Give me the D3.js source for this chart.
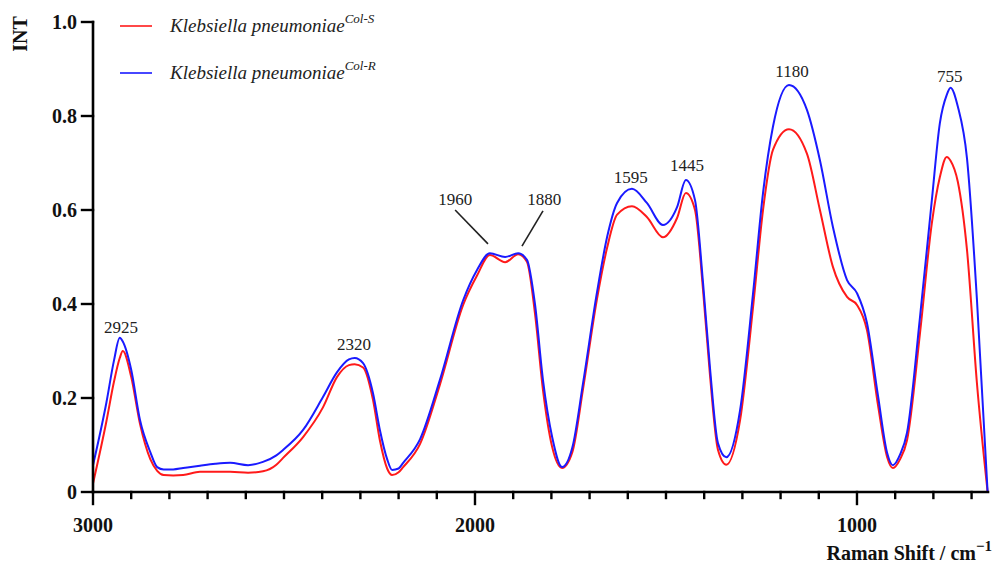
<!DOCTYPE html>
<html lang="en">
<head>
    <meta charset="UTF-8">
    <title>Raman spectra</title>
    <script src="https://d3js.org/d3.v7.min.js"></script>
    <style>
        *{
            margin: 0;
            padding: 0;
        }
        body{ background: #fff; }
        svg text{ font-family: "Liberation Serif", "DejaVu Serif", serif; }
        .tick-label{ font-size: 20px; font-weight: bold; fill: #111; }
        .peak{ font-size: 17px; fill: #222; }
        .legend{ font-size: 19px; font-style: italic; fill: #222; }
    </style>
</head>
<body>
    <div id="content"></div>

    <script>
        // Raman shift (cm-1)
        var shifts = [3000, 2965, 2945, 2930, 2922, 2900, 2877, 2850, 2832, 2815, 2790, 2764, 2720, 2680, 2641,
            2594, 2555, 2520, 2503, 2450, 2398, 2361, 2330, 2315, 2293, 2267, 2249, 2230, 2217, 2200, 2188,
            2144, 2092, 2031, 1995, 1961, 1921, 1887, 1864, 1843, 1822, 1798, 1772, 1745, 1717, 1681, 1654,
            1628, 1589, 1550, 1508, 1471, 1448, 1424, 1403, 1385, 1364, 1342, 1306, 1272, 1246, 1220, 1178,
            1131, 1097, 1063, 1026, 1000, 974, 945, 921, 906, 887, 869, 835, 804, 783, 765, 755, 736, 712,
            686, 658];
        // Klebsiella pneumoniae Col-S (red)
        var colS = [0.018, 0.15, 0.235, 0.285, 0.30, 0.245, 0.145, 0.07, 0.045, 0.036, 0.035, 0.036, 0.043, 0.043, 0.043,
            0.041, 0.044, 0.058, 0.072, 0.117, 0.18, 0.245, 0.27, 0.272, 0.265, 0.196, 0.11, 0.05, 0.036, 0.042, 0.053,
            0.102, 0.228, 0.398, 0.46, 0.504, 0.489, 0.506, 0.49, 0.38, 0.217, 0.096, 0.051, 0.085, 0.22, 0.409, 0.52,
            0.59, 0.608, 0.585, 0.542, 0.583, 0.636, 0.60, 0.43, 0.25, 0.09, 0.058, 0.153, 0.394, 0.60, 0.728, 0.772,
            0.72, 0.60, 0.479, 0.415, 0.398, 0.345, 0.185, 0.074, 0.051, 0.07, 0.11, 0.338, 0.572, 0.67, 0.713, 0.705, 0.66, 0.515,
            0.232, 0.0];
        // Klebsiella pneumoniae Col-R (blue)
        var colR = [0.057, 0.19, 0.28, 0.328, 0.32, 0.26, 0.153, 0.085, 0.053, 0.048, 0.048, 0.051, 0.056, 0.060, 0.062,
            0.057, 0.064, 0.078, 0.089, 0.132, 0.202, 0.255, 0.282, 0.285, 0.274, 0.21, 0.132, 0.07, 0.047, 0.05, 0.062,
            0.112, 0.238, 0.408, 0.472, 0.508, 0.50, 0.508, 0.494, 0.40, 0.238, 0.117, 0.053, 0.095, 0.232, 0.423, 0.543,
            0.615, 0.645, 0.615, 0.568, 0.606, 0.664, 0.621, 0.445, 0.266, 0.104, 0.074, 0.174, 0.423, 0.636, 0.777, 0.866,
            0.813, 0.706, 0.564, 0.451, 0.423, 0.36, 0.205, 0.083, 0.057, 0.08, 0.126, 0.372, 0.621, 0.785, 0.845, 0.86, 0.82, 0.71,
            0.41, 0.0];

        var yTicks = [0, 0.2, 0.4, 0.6, 0.8, 1.0];
        var yTickLabels = ["0", "0.2", "0.4", "0.6", "0.8", "1.0"];
        var xMajor = [3000, 2000, 1000];
        var xMinor = d3.range(2900, 657, -100).filter(function(v){ return v % 1000 !== 0; });

        // peak labels: position in data units (x, baseline intensity)
        var peakText = ["2925", "2320", "1960", "1880", "1595", "1445", "1180", "755"];
        var peakX = [2927, 2317, 2052, 1819, 1592, 1445, 1170, 757];
        var peakY = [0.338, 0.302, 0.611, 0.611, 0.657, 0.683, 0.883, 0.872];
        // leader lines for 1960 / 1880
        var leaders = [[2052, 0.600, 1966, 0.528], [1822, 0.598, 1877, 0.523]];

        var legendNames = ["Col-S", "Col-R"];
        var colors = ["#ff1a1a", "#1a1aff"];

        var width = 995, height = 566;
        var padding = {top: 22, right: 7, bottom: 74, left: 93};

        var svg = d3.select("#content").append("svg")
                .attr("width", width).attr("height", height);

        var xScale = d3.scaleLinear().domain([3000, 657]).range([padding.left, width - padding.right]);
        var yScale = d3.scaleLinear().domain([0, 1]).range([height - padding.bottom, padding.top]);

        var line = d3.line()
                .x(function(d){ return xScale(d[0]); })
                .y(function(d){ return yScale(d[1]); })
                .curve(d3.curveMonotoneX);

        [colS, colR].forEach(function(series, k){
            var pts = shifts.map(function(s, i){ return [s, series[i]]; });
            svg.append("path")
                .attr("d", line(pts))
                .attr("fill", "none")
                .attr("stroke", colors[k])
                .attr("stroke-width", 2);
        });

        /* 坐标轴 */
        var y0 = yScale(0);
        var axisG = svg.append("g").attr("stroke", "#000").attr("stroke-linecap", "square");
        axisG.append("line")
            .attr("x1", xScale(3000)).attr("x2", xScale(657))
            .attr("y1", y0).attr("y2", y0).attr("stroke-width", 2.6);
        axisG.append("line")
            .attr("x1", xScale(3000)).attr("x2", xScale(3000))
            .attr("y1", yScale(1)).attr("y2", y0).attr("stroke-width", 2.6);

        axisG.selectAll(".ymaj").data(yTicks).enter().append("line")
            .attr("x1", xScale(3000) - 11).attr("x2", xScale(3000))
            .attr("y1", function(d){ return yScale(d); })
            .attr("y2", function(d){ return yScale(d); })
            .attr("stroke-width", 2.4);

        axisG.selectAll(".xmaj").data(xMajor).enter().append("line")
            .attr("x1", function(d){ return xScale(d); })
            .attr("x2", function(d){ return xScale(d); })
            .attr("y1", y0).attr("y2", y0 + 12)
            .attr("stroke-width", 2.4);

        axisG.selectAll(".xmin").data(xMinor).enter().append("line")
            .attr("x1", function(d){ return xScale(d); })
            .attr("x2", function(d){ return xScale(d); })
            .attr("y1", y0).attr("y2", y0 + 6)
            .attr("stroke-width", 2.4);

        svg.selectAll(".ylab").data(yTicks).enter().append("text")
            .attr("class", "tick-label")
            .attr("x", xScale(3000) - 16)
            .attr("y", function(d){ return yScale(d); })
            .attr("dy", "0.35em")
            .attr("text-anchor", "end")
            .text(function(d, i){ return yTickLabels[i]; });

        svg.selectAll(".xlab").data(xMajor).enter().append("text")
            .attr("class", "tick-label")
            .attr("x", function(d){ return xScale(d); })
            .attr("y", y0 + 40)
            .attr("text-anchor", "middle")
            .text(function(d){ return d; });

        var xt = svg.append("text")
            .attr("class", "tick-label")
            .attr("font-size", 21)
            .attr("x", width - 3)
            .attr("y", height - 6)
            .attr("text-anchor", "end");
        xt.append("tspan").text("Raman Shift / cm");
        xt.append("tspan").attr("dy", -9).attr("font-size", 15).text("\u22121");

        svg.append("text")
            .attr("class", "tick-label")
            .attr("font-size", 18)
            .attr("transform", "translate(27," + (padding.top + 12) + ") rotate(-90)")
            .attr("text-anchor", "middle")
            .text("INT");

        /* 峰标注 */
        svg.selectAll(".peak").data(peakText).enter().append("text")
            .attr("class", "peak")
            .attr("x", function(d, i){ return xScale(peakX[i]); })
            .attr("y", function(d, i){ return yScale(peakY[i]); })
            .attr("text-anchor", "middle")
            .text(function(d){ return d; });

        svg.selectAll(".leader").data(leaders).enter().append("line")
            .attr("x1", function(d){ return xScale(d[0]); })
            .attr("y1", function(d){ return yScale(d[1]); })
            .attr("x2", function(d){ return xScale(d[2]); })
            .attr("y2", function(d){ return yScale(d[3]); })
            .attr("stroke", "#222").attr("stroke-width", 1.6);

        /* 图例 */
        legendNames.forEach(function(name, k){
            var ly = 26 + k * 47;
            svg.append("line")
                .attr("x1", 120).attr("x2", 152)
                .attr("y1", ly).attr("y2", ly)
                .attr("stroke", colors[k]).attr("stroke-width", 1.6);
            var t = svg.append("text").attr("class", "legend")
                .attr("x", 170).attr("y", ly + 6);
            t.append("tspan").text("Klebsiella pneumoniae");
            t.append("tspan").attr("dy", -9).attr("font-size", 13).text(name);
        });
    </script>
</body>
</html>
